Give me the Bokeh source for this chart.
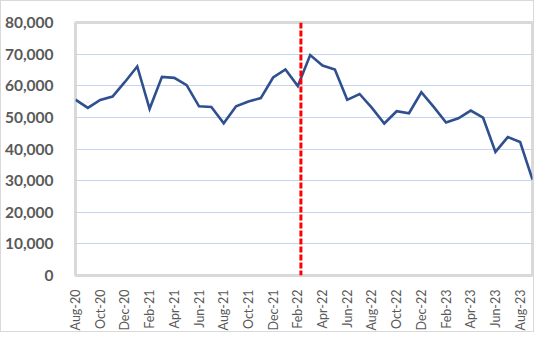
from bokeh.plotting import figure
from bokeh.models import Span, FixedTicker, NumeralTickFormatter, Range1d
from bokeh.embed import file_html
from bokeh.resources import INLINE
import math

months = ["Aug-20", "Sep-20", "Oct-20", "Nov-20", "Dec-20", "Jan-21", "Feb-21", "Mar-21",
          "Apr-21", "May-21", "Jun-21", "Jul-21", "Aug-21", "Sep-21", "Oct-21", "Nov-21",
          "Dec-21", "Jan-22", "Feb-22", "Mar-22", "Apr-22", "May-22", "Jun-22", "Jul-22",
          "Aug-22", "Sep-22", "Oct-22", "Nov-22", "Dec-22", "Jan-23", "Feb-23", "Mar-23",
          "Apr-23", "May-23", "Jun-23", "Jul-23", "Aug-23", "Sep-23"]
values = [55600, 53000, 55500, 56600, 61200, 66100, 52700, 62800,
          62500, 60200, 53500, 53300, 48150, 53500, 55000, 56100,
          62600, 65150, 59900, 69700, 66400, 65150, 55550, 57400,
          53000, 48050, 51950, 51300, 57950, 53300, 48350, 49700,
          52150, 49900, 39100, 43750, 42200, 30300]
marker_position = 18.25  # late Feb-22

x = list(range(len(months)))

p = figure(width=534, height=332, output_backend="svg", toolbar_location=None,
           x_range=Range1d(0, len(months) - 1), y_range=Range1d(0, 80000),
           min_border_left=73, min_border_right=3, min_border_top=21, min_border_bottom=53)
p.styles = {"border": "1.5px solid #d9d9d9", "box-sizing": "border-box"}

p.line(x, values, line_color="#2f4f8f", line_width=2.6, line_join="miter")

p.add_layout(Span(location=marker_position, dimension="height", line_color="#ff0000",
                  line_width=3, line_dash="6 2"))

p.outline_line_color = "#d9d9d9"
p.outline_line_width = 3

p.xgrid.grid_line_color = None
p.ygrid.grid_line_color = "#c5d5ee"
p.ygrid.grid_line_width = 1.2

p.yaxis.ticker = FixedTicker(ticks=list(range(0, 80001, 10000)))
p.yaxis.formatter = NumeralTickFormatter(format="0,0")
p.yaxis.axis_line_color = None
p.yaxis.major_tick_line_color = None
p.yaxis.minor_tick_line_color = None
p.yaxis.major_label_text_font = "Lato"
p.yaxis.major_label_text_font_style = "bold"
p.yaxis.major_label_text_font_size = "15.5px"
p.yaxis.major_label_text_color = "#595959"
p.yaxis.major_label_standoff = 16

tick_idx = list(range(0, len(months), 2))
p.xaxis.ticker = FixedTicker(ticks=tick_idx)
p.xaxis.major_label_overrides = {i: months[i] for i in tick_idx}
p.xaxis.major_label_orientation = math.pi / 2
p.xaxis.axis_line_color = None
p.xaxis.major_tick_line_color = None
p.xaxis.minor_tick_line_color = None
p.xaxis.major_label_text_font = "Lato"
p.xaxis.major_label_text_font_size = "12.5px"
p.xaxis.major_label_text_color = "#595959"
p.xaxis.major_label_standoff = 8

p.background_fill_color = "white"
p.border_fill_color = "white"

open("out.html", "w").write(file_html(p, INLINE))
